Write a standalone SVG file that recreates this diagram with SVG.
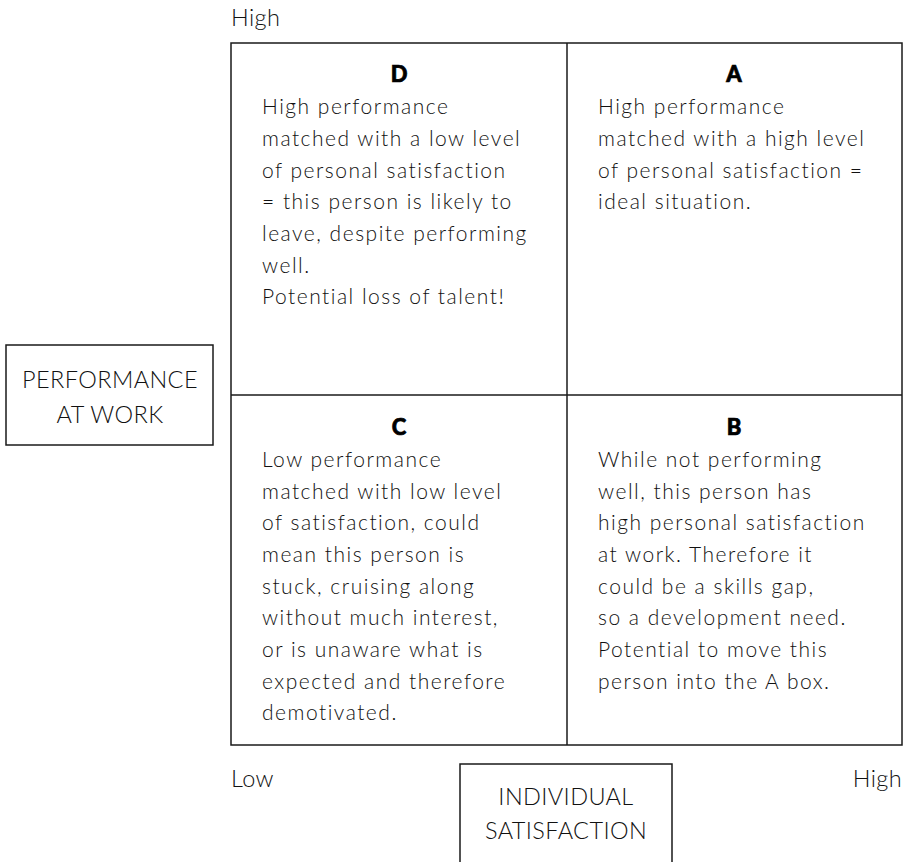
<svg xmlns="http://www.w3.org/2000/svg" width="906" height="862" viewBox="0 0 906 862">
  <style>
    .line { fill: none; stroke: #1a1a1a; stroke-width: 1.5; }
    .body { font-family: Lato, "DejaVu Sans", sans-serif; font-weight: 300; font-size: 21px; letter-spacing: 1.5px; fill: #111; }
    .axis { font-family: Lato, "DejaVu Sans", sans-serif; font-weight: 300; font-size: 23.5px; letter-spacing: 0.4px; fill: #111; }
    .head { font-family: Lato, "DejaVu Sans", sans-serif; font-weight: 900; font-size: 22px; fill: #000; stroke: #000; stroke-width: 0.7; text-anchor: middle; }
    .mid { text-anchor: middle; }
  </style>
  <rect width="906" height="862" fill="#fff"/>

  <!-- axis end labels -->
  <text class="axis" x="231" y="26">High</text>
  <text class="axis" x="231" y="787">Low</text>
  <text class="axis" x="902" y="787" text-anchor="end">High</text>

  <!-- quadrant grid -->
  <g id="grid">
    <rect class="line" x="231" y="43" width="671" height="702"/>
    <line class="line" x1="567" y1="43" x2="567" y2="745"/>
    <line class="line" x1="231" y1="395" x2="902" y2="395"/>
  </g>

  <g id="quadrant-d">
    <text class="head" x="399" y="82">D</text>
    <text class="body">
      <tspan x="262" y="114">High performance</tspan>
      <tspan x="262" y="146">matched with a low level</tspan>
      <tspan x="262" y="177.5">of personal satisfaction</tspan>
      <tspan x="262" y="209">= this person is likely to</tspan>
      <tspan x="262" y="241">leave, despite performing</tspan>
      <tspan x="262" y="272.5">well.</tspan>
      <tspan x="262" y="304">Potential loss of talent!</tspan>
    </text>
  </g>

  <g id="quadrant-a">
    <text class="head" x="734" y="82">A</text>
    <text class="body">
      <tspan x="598" y="114">High performance</tspan>
      <tspan x="598" y="146">matched with a high level</tspan>
      <tspan x="598" y="177.5">of personal satisfaction =</tspan>
      <tspan x="598" y="209">ideal situation.</tspan>
    </text>
  </g>

  <g id="quadrant-c">
    <text class="head" x="399" y="435">C</text>
    <text class="body">
      <tspan x="262" y="467">Low performance</tspan>
      <tspan x="262" y="498.5">matched with low level</tspan>
      <tspan x="262" y="530">of satisfaction, could</tspan>
      <tspan x="262" y="562">mean this person is</tspan>
      <tspan x="262" y="593.5">stuck, cruising along</tspan>
      <tspan x="262" y="625">without much interest,</tspan>
      <tspan x="262" y="657">or is unaware what is</tspan>
      <tspan x="262" y="688.5">expected and therefore</tspan>
      <tspan x="262" y="720">demotivated.</tspan>
    </text>
  </g>

  <g id="quadrant-b">
    <text class="head" x="734" y="435">B</text>
    <text class="body">
      <tspan x="598" y="467">While not performing</tspan>
      <tspan x="598" y="498.5">well, this person has</tspan>
      <tspan x="598" y="530">high personal satisfaction</tspan>
      <tspan x="598" y="562">at work. Therefore it</tspan>
      <tspan x="598" y="593.5">could be a skills gap,</tspan>
      <tspan x="598" y="625">so a development need.</tspan>
      <tspan x="598" y="657">Potential to move this</tspan>
      <tspan x="598" y="688.5">person into the A box.</tspan>
    </text>
  </g>

  <g id="performance-axis">
    <rect class="line" x="6" y="345" width="207" height="100"/>
    <text class="axis mid" x="110" y="388">PERFORMANCE</text>
    <text class="axis mid" x="110" y="423">AT WORK</text>
  </g>

  <g id="satisfaction-axis">
    <path class="line" d="M460 862 V764 H672 V862"/>
    <text class="axis mid" x="566" y="805">INDIVIDUAL</text>
    <text class="axis mid" x="566" y="839">SATISFACTION</text>
  </g>
</svg>
